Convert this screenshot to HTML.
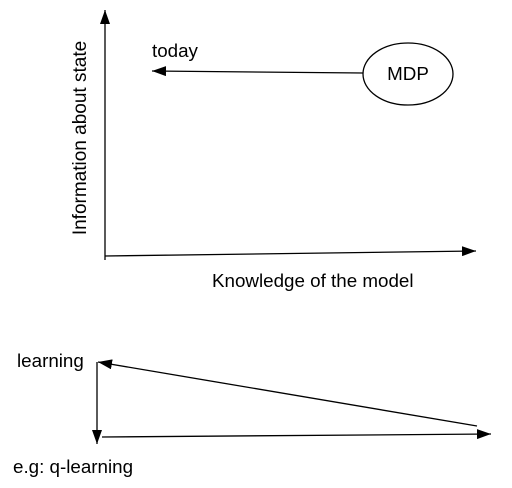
<!DOCTYPE html>
<html><head><style>html,body{margin:0;padding:0;background:#fff;}</style></head>
<body>
<svg width="512" height="483" viewBox="0 0 512 483" xmlns="http://www.w3.org/2000/svg" font-family="Liberation Sans, sans-serif" font-size="18.8" fill="#000">
<defs>
<marker id="b" markerWidth="14" markerHeight="10" refX="14" refY="5" orient="auto" markerUnits="userSpaceOnUse"><path d="M0,0 L14,5 L0,10 z" fill="#000"/></marker></defs>
<g stroke="#000" stroke-width="1.3" fill="none">
<line x1="105" y1="260" x2="105" y2="10" marker-end="url(#b)"/>
<line x1="105" y1="256" x2="476" y2="251" marker-end="url(#b)"/>
<line x1="363" y1="73" x2="152" y2="71" marker-end="url(#b)"/>
<ellipse cx="408" cy="74" rx="45" ry="31"/>
<line x1="97" y1="362" x2="97" y2="444" marker-end="url(#b)"/>
<line x1="477" y1="426" x2="98" y2="362" marker-end="url(#b)"/>
<line x1="102" y1="437" x2="491" y2="434" marker-end="url(#b)"/>
</g>
<text x="152" y="57">today</text>
<text x="408" y="80" text-anchor="middle">MDP</text>
<text transform="translate(86,138) rotate(-90)" text-anchor="middle" font-size="19">Information about state</text>
<text x="212" y="287">Knowledge of the model</text>
<text x="17" y="367">learning</text>
<text x="13" y="473">e.g: q-learning</text>
</svg>
</body></html>
